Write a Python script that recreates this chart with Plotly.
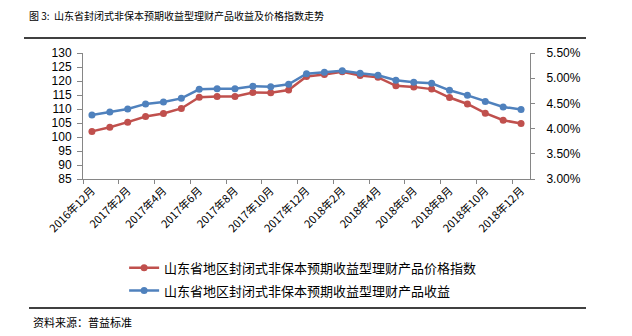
import plotly.graph_objects as go

months = ["2016年12月", "2017年1月", "2017年2月", "2017年3月", "2017年4月", "2017年5月",
          "2017年6月", "2017年7月", "2017年8月", "2017年9月", "2017年10月", "2017年11月",
          "2017年12月", "2018年1月", "2018年2月", "2018年3月", "2018年4月", "2018年5月",
          "2018年6月", "2018年7月", "2018年8月", "2018年9月", "2018年10月", "2018年11月",
          "2018年12月"]
price_index = [102.0, 103.5, 105.3, 107.3, 108.4, 110.2, 114.2, 114.5, 114.5, 115.9, 115.8, 116.8,
               121.6, 122.3, 123.3, 122.0, 121.3, 118.3, 117.9, 117.1, 114.1, 111.8, 108.5, 106.0, 104.8]
yield_pct = [4.27, 4.33, 4.39, 4.49, 4.53, 4.60, 4.78, 4.79, 4.79, 4.84, 4.83, 4.88,
             5.09, 5.12, 5.15, 5.10, 5.06, 4.96, 4.92, 4.90, 4.76, 4.66, 4.54, 4.43, 4.38]
left_ticks = [85, 90, 95, 100, 105, 110, 115, 120, 125, 130]
right_ticks = [3.0, 3.5, 4.0, 4.5, 5.0, 5.5]

name_price = "山东省地区封闭式非保本预期收益型理财产品价格指数"
name_yield = "山东省地区封闭式非保本预期收益型理财产品收益"
title_text = "图 3:  山东省封闭式非保本预期收益型理财产品收益及价格指数走势"
source_text = "资料来源：普益标准"

RED = "#C0504D"
BLUE = "#4F81BD"
AX = "#868686"
CJK = "Noto Sans CJK SC"
NUM = "Liberation Sans"

fig = go.Figure()
fig.add_trace(go.Scatter(x=months, y=price_index, name=name_price, mode="lines+markers",
                         line=dict(color=RED, width=2.5), marker=dict(size=7, color=RED),
                         legendgroup="a", yaxis="y"))
fig.add_trace(go.Scatter(x=months, y=yield_pct, name=name_yield, mode="lines+markers",
                         line=dict(color=BLUE, width=2.5), marker=dict(size=7, color=BLUE),
                         legendgroup="b", yaxis="y2"))

L, R, T, B = 83, 102, 53, 157
W, H = 632, 336
fig.update_layout(
    width=W, height=H,
    margin=dict(l=L, r=R, t=T, b=B, pad=0),
    paper_bgcolor="white", plot_bgcolor="white",
    showlegend=True,
    legend=dict(x=0.092, y=-0.585, xanchor="left", yanchor="top",
                font=dict(family=CJK, size=13, color="#000"),
                traceorder="grouped", tracegroupgap=3, itemwidth=30,
                bgcolor="rgba(0,0,0,0)"),
    xaxis=dict(type="category", range=[-0.5, 24.5], dtick=2, tickson="boundaries",
               tickangle=-45, ticks="outside", ticklen=4, tickcolor=AX,
               showline=True, linecolor=AX, linewidth=1, showgrid=False, zeroline=False,
               tickfont=dict(family=CJK, size=11, color="#000")),
    yaxis=dict(range=[85, 130], tickvals=left_ticks, ticks="outside", ticklen=5, tickcolor=AX,
               showline=True, linecolor=AX, linewidth=1, showgrid=False, zeroline=False,
               tickfont=dict(family=NUM, size=12, color="#000"), ticklabelstandoff=3),
    yaxis2=dict(range=[3.0, 5.5], tickvals=right_ticks,
                ticktext=[f"{v:.2f}%" for v in right_ticks],
                overlaying="y", side="right", ticks="outside", ticklen=4, tickcolor=AX,
                showline=True, linecolor=AX, linewidth=1, showgrid=False, zeroline=False,
                tickfont=dict(family=NUM, size=12, color="#000"), ticklabelstandoff=9),
)

fig.add_annotation(text=title_text, xref="paper", yref="paper",
                   x=(27 - L) / (W - L - R), y=1 + (T - 16) / (H - T - B),
                   xanchor="left", yanchor="middle", showarrow=False,
                   font=dict(family=CJK, size=10, color="#000"))
fig.add_annotation(text=source_text, xref="paper", yref="paper",
                   x=(31 - L) / (W - L - R), y=-(322 - (H - B)) / (H - T - B),
                   xanchor="left", yanchor="middle", showarrow=False,
                   font=dict(family=CJK, size=11, color="#000"))
fig.add_shape(type="line", xref="paper", yref="paper",
              x0=(24 - L) / (W - L - R), x1=(586 - L) / (W - L - R),
              y0=1 + (T - 38) / (H - T - B), y1=1 + (T - 38) / (H - T - B),
              line=dict(color="#000", width=1.5))
fig.add_shape(type="line", xref="paper", yref="paper",
              x0=(29 - L) / (W - L - R), x1=(586 - L) / (W - L - R),
              y0=-(308 - (H - B)) / (H - T - B), y1=-(308 - (H - B)) / (H - T - B),
              line=dict(color="#000", width=1.5))

fig.write_html("out.html")
